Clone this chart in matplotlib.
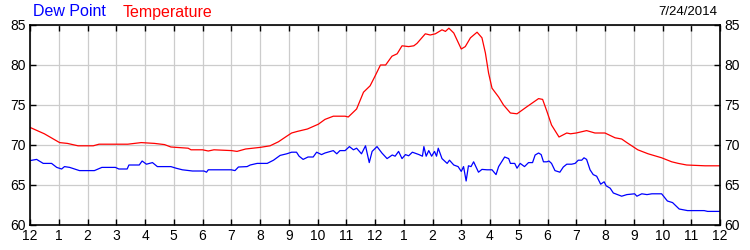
import matplotlib.pyplot as plt

# hours since midnight and readings
temp_hours = [0.0, 0.5, 1.03, 1.3, 1.67, 2.2, 2.4, 3.0, 3.4, 3.87, 4.33, 4.68, 4.9, 5.5, 5.6,
              6.0, 6.2, 6.4, 7.01, 7.2, 7.5, 8.0, 8.35, 8.64, 8.93, 9.1, 9.3, 9.65, 10.03,
              10.26, 10.55, 10.96, 11.07, 11.36, 11.6, 11.83, 12.0, 12.19, 12.37, 12.59,
              12.77, 12.94, 13.17, 13.35, 13.46, 13.75, 13.92, 14.1, 14.33, 14.45, 14.57,
              14.74, 15.0, 15.14, 15.32, 15.55, 15.72, 15.84, 15.95, 16.07, 16.3, 16.47,
              16.71, 16.94, 17.29, 17.69, 17.83, 17.98, 18.14, 18.4, 18.67, 18.8, 19.0,
              19.36, 19.65, 20.0, 20.35, 20.58, 20.76, 21.14, 21.5, 21.97, 22.32, 22.55,
              22.84, 23.48, 24.0]
temp_vals = [72.2, 71.4, 70.3, 70.2, 69.9, 69.9, 70.1, 70.1, 70.1, 70.3, 70.2, 70.05, 69.75,
             69.6, 69.4, 69.4, 69.25, 69.4, 69.3, 69.2, 69.5, 69.7, 69.9, 70.4, 71.1, 71.5,
             71.7, 72.0, 72.6, 73.2, 73.6, 73.6, 73.5, 74.5, 76.6, 77.4, 78.6, 80.0, 80.0,
             81.1, 81.4, 82.4, 82.3, 82.4, 82.7, 83.9, 83.75, 83.9, 84.4, 84.2, 84.6, 84.0,
             82.0, 82.3, 83.4, 84.1, 83.4, 81.5, 79.0, 77.1, 76.0, 75.0, 74.0, 73.9, 74.8,
             75.8, 75.7, 74.2, 72.5, 71.0, 71.5, 71.4, 71.5, 71.8, 71.5, 71.5, 70.9, 70.75,
             70.3, 69.4, 68.9, 68.4, 67.9, 67.7, 67.5, 67.4, 67.4]

dew_hours = [0.0, 0.23, 0.46, 0.75, 0.93, 1.1, 1.2, 1.38, 1.72, 2.24, 2.5, 2.97, 3.09, 3.38,
             3.44, 3.8, 3.9, 4.05, 4.26, 4.43, 4.9, 5.08, 5.3, 5.65, 6.05, 6.14, 6.2, 7.0,
             7.13, 7.25, 7.55, 7.66, 7.9, 8.25, 8.47, 8.7, 8.93, 9.1, 9.27, 9.36, 9.5, 9.67,
             9.85, 9.97, 10.14, 10.26, 10.55, 10.67, 10.78, 10.96, 11.11, 11.25, 11.36,
             11.53, 11.67, 11.8, 11.9, 12.07, 12.24, 12.42, 12.6, 12.7, 12.82, 12.94, 13.06,
             13.17, 13.3, 13.53, 13.65, 13.7, 13.78, 13.87, 13.97, 14.07, 14.14, 14.2,
             14.33, 14.51, 14.59, 14.74, 14.89, 15.0, 15.08, 15.17, 15.25, 15.34, 15.43,
             15.6, 15.72, 15.9, 16.07, 16.21, 16.3, 16.51, 16.65, 16.71, 16.86, 16.94,
             17.05, 17.2, 17.34, 17.48, 17.57, 17.69, 17.78, 17.86, 17.98, 18.05, 18.14,
             18.26, 18.43, 18.55, 18.67, 18.84, 18.96, 19.07, 19.19, 19.27, 19.36, 19.48,
             19.59, 19.71, 19.85, 19.97, 20.04, 20.18, 20.29, 20.58, 20.76, 21.03, 21.11,
             21.28, 21.46, 21.63, 21.97, 22.17, 22.35, 22.58, 22.87, 23.45, 23.57, 24.0]
dew_vals = [68.05, 68.2, 67.7, 67.7, 67.2, 67.0, 67.3, 67.2, 66.8, 66.8, 67.2, 67.2, 67.0,
            67.0, 67.5, 67.5, 68.0, 67.6, 67.8, 67.3, 67.3, 67.1, 66.9, 66.75, 66.75, 66.6,
            66.9, 66.9, 66.8, 67.25, 67.3, 67.5, 67.7, 67.7, 68.1, 68.7, 68.9, 69.1, 69.1,
            68.6, 68.2, 68.5, 68.5, 69.1, 68.8, 69.0, 69.3, 68.9, 69.3, 69.3, 69.8, 69.4,
            69.6, 68.9, 69.9, 67.8, 69.2, 69.8, 69.0, 68.3, 68.75, 68.6, 69.2, 68.3, 68.8,
            68.65, 69.1, 68.8, 68.6, 69.8, 68.6, 69.3, 68.6, 69.2, 68.6, 69.6, 68.3, 67.7,
            68.1, 67.5, 67.3, 66.7, 67.3, 65.5, 67.4, 67.3, 67.9, 66.6, 66.95, 66.9, 66.9,
            66.3, 67.3, 68.5, 68.3, 67.7, 67.7, 67.1, 67.7, 67.3, 67.8, 67.8, 68.75, 69.0,
            68.8, 67.9, 67.9, 68.0, 67.7, 66.8, 66.6, 67.25, 67.6, 67.6, 67.7, 68.1, 68.1,
            68.4, 68.2, 66.9, 66.3, 66.1, 65.1, 65.4, 64.9, 64.6, 64.0, 63.6, 63.8, 63.9,
            63.6, 63.9, 63.8, 63.9, 63.9, 63.0, 62.8, 62.0, 61.8, 61.8, 61.7, 61.7]

hour_labels = ['12', '1', '2', '3', '4', '5', '6', '7', '8', '9', '10', '11',
               '12', '1', '2', '3', '4', '5', '6', '7', '8', '9', '10', '11', '12']
y_ticks = [60, 65, 70, 75, 80, 85]

plt.rcParams['font.family'] = ['Liberation Sans', 'DejaVu Sans']

fig = plt.figure(figsize=(7.5, 2.5), dpi=100)
ax = fig.add_axes([0.04, 0.1, 0.92, 0.8])

ax.plot(temp_hours, temp_vals, color='#ff0000', linewidth=0.9)
ax.plot(dew_hours, dew_vals, color='#0000ff', linewidth=0.9)

ax.set_xlim(0, 24)
ax.set_ylim(60, 85)
ax.set_xticks(range(25))
ax.set_xticklabels(hour_labels)
ax.set_yticks(y_ticks)
ax.grid(True, color='#cccccc', linewidth=0.9)
ax.set_axisbelow(True)
ax.tick_params(direction='in', length=4, width=1, labelsize=10, pad=3,
               top=True, right=True, labelright=True)
for s in ax.spines.values():
    s.set_linewidth(1.2)

fig.text(0.044, 0.952, 'Dew Point', color='#0000ff', fontsize=11.5, va='center')
fig.text(0.164, 0.952, 'Temperature', color='#ff0000', fontsize=11.5, va='center')
fig.text(0.957, 0.952, '7/24/2014', color='black', fontsize=9.5, ha='right', va='center')

fig.savefig('out.png', dpi=100)
